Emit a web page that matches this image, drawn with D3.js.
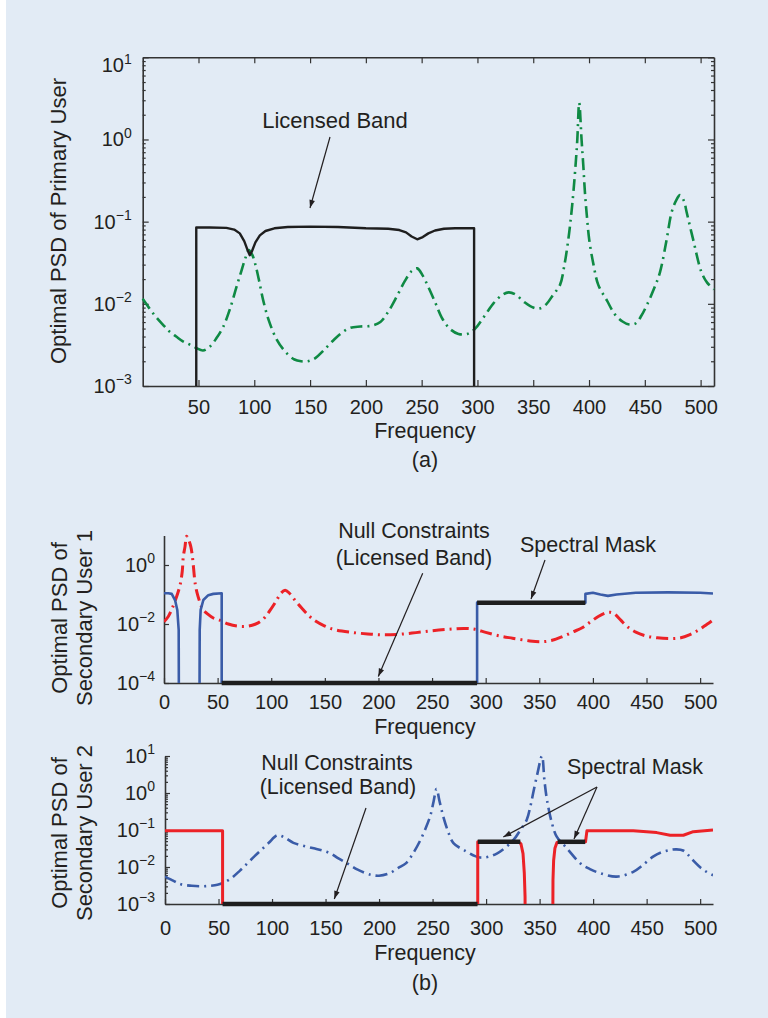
<!DOCTYPE html>
<html>
<head>
<meta charset="utf-8">
<script src="https://cdn.jsdelivr.net/npm/d3@7"></script>
<style>
  html, body { margin: 0; padding: 0; background: #fff; }
  svg text { font-family: "Liberation Sans", Arial, Helvetica, sans-serif; fill: #231f20; }
  .axis path, .axis line { stroke: #333; }
  .axis path { stroke-width: 1.6; }
  .axis line { stroke-width: 1.2; }
</style>
</head>
<body>
<div id="chart"></div>
<script>
// ---------- data (a): primary user ----------
const puFreq = [48, 48, 60, 75, 82, 87, 91, 94, 96, 98, 101, 105, 110, 118, 130, 150, 175, 200, 220, 230, 236, 241, 246, 251, 256, 262, 270, 280, 297, 297];
const puPsd = [0.001, 0.085, 0.085, 0.084, 0.08, 0.072, 0.058, 0.045, 0.039, 0.044, 0.056, 0.068, 0.077, 0.083, 0.086, 0.087, 0.086, 0.083, 0.082, 0.079, 0.074, 0.066, 0.061, 0.065, 0.072, 0.078, 0.082, 0.083, 0.083, 0.001];

const puIntFreq = [0, 6, 12, 18, 24, 30, 36, 42, 48, 54, 60, 66, 72, 78, 84, 88, 92, 95, 98, 101, 104, 108, 113, 120, 128, 136, 142, 148, 155, 162, 170, 178, 186, 195, 205, 213, 220, 228, 235, 241, 246, 251, 256, 262, 268, 275, 283, 291, 298, 306, 314, 322, 328, 334, 342, 350, 356, 362, 368, 374, 378, 381.4, 384, 386, 388, 389.5, 391.2, 393.3, 394.8, 396.3, 398, 400.2, 404, 408.3, 416, 423, 430, 436, 442, 447, 451.6, 458, 463.5, 469.5, 474, 478, 481.5, 485, 487.5, 493.4, 500.9, 506, 512];
const puIntPsd = [0.0115, 0.0088, 0.0069, 0.0056, 0.0046, 0.004, 0.0035, 0.0032, 0.0029, 0.0027, 0.003, 0.0038, 0.0052, 0.0085, 0.016, 0.024, 0.036, 0.045, 0.04, 0.03, 0.02, 0.011, 0.0063, 0.0037, 0.0026, 0.0021, 0.002, 0.002, 0.0022, 0.0027, 0.0035, 0.0044, 0.0051, 0.0053, 0.0054, 0.006, 0.008, 0.0125, 0.019, 0.025, 0.027, 0.022, 0.016, 0.0105, 0.0068, 0.005, 0.0043, 0.0043, 0.005, 0.007, 0.01, 0.0128, 0.0138, 0.013, 0.0105, 0.009, 0.0088, 0.01, 0.013, 0.017, 0.03, 0.06, 0.12, 0.23, 0.5, 1.0, 2.8, 1.0, 0.5, 0.23, 0.12, 0.06, 0.03, 0.017, 0.011, 0.0075, 0.0061, 0.0056, 0.0058, 0.0072, 0.0095, 0.015, 0.024, 0.06, 0.13, 0.18, 0.21, 0.18, 0.13, 0.06, 0.024, 0.018, 0.015];

// ---------- data (b): secondary user 1 (1e-6 = switched off, below the axis) ----------
const su1Freq = [0, 4, 7.2, 10.3, 12.4, 13.7, 14, 33, 33.3, 34.2, 36.7, 41.3, 46, 53.8, 53.8, 292, 292, 393, 393, 400, 407, 414, 422, 440, 470, 500, 512];
const su1Psd = [0.11, 0.11, 0.105, 0.065, 0.03, 0.0063, 1e-6, 1e-6, 0.0063, 0.03, 0.065, 0.095, 0.105, 0.11, 1e-6, 1e-6, 0.053, 0.053, 0.105, 0.115, 0.1, 0.09, 0.1, 0.115, 0.118, 0.115, 0.108];

const su1IntFreq = [0, 4, 7, 11, 15, 17, 18, 19.6, 21.1, 23, 25, 26.5, 29.3, 31.8, 36.5, 40, 46, 52, 60, 68, 77, 85, 92, 98, 104, 109, 113, 117, 122, 128, 134, 140, 150, 160, 175, 190, 205, 220, 235, 250, 265, 280, 290, 300, 312, 325, 340, 352, 362, 372, 382, 390, 398, 405, 412, 416, 420, 426, 432, 440, 450, 460, 472, 482, 490, 497, 504, 512];
const su1IntPsd = [0.012, 0.018, 0.03, 0.07, 0.21, 0.6, 1.9, 4.2, 9.5, 7, 4.2, 1.9, 0.21, 0.085, 0.03, 0.023, 0.016, 0.0135, 0.01, 0.0085, 0.0083, 0.0098, 0.014, 0.026, 0.055, 0.11, 0.14, 0.11, 0.065, 0.036, 0.021, 0.0135, 0.0085, 0.0063, 0.0052, 0.0046, 0.0043, 0.0045, 0.0051, 0.0059, 0.0066, 0.0071, 0.0066, 0.0052, 0.004, 0.0033, 0.0027, 0.0025, 0.0028, 0.0038, 0.0055, 0.0075, 0.012, 0.018, 0.024, 0.025, 0.022, 0.0135, 0.0082, 0.0053, 0.0039, 0.0034, 0.0032, 0.0034, 0.0043, 0.0058, 0.0085, 0.0137];

const su1NullFreq = [53.8, 292];
const su1NullPsd = [0.0001, 0.0001];
const su1MaskFreq = [292, 393];
const su1MaskPsd = [0.053, 0.053];

// ---------- data (b): secondary user 2 ----------
const su2Freq = [0, 53.8, 53.8, 292.2, 292.2, 330.4, 332.6, 334.5, 335.7, 336.4, 336.7, 362.1, 362.5, 363.1, 364.3, 366.2, 392.9, 394.2, 420, 437.5, 459.4, 471.9, 484.3, 493.6, 512];
const su2Psd = [0.095, 0.095, 1e-5, 1e-5, 0.048, 0.048, 0.042, 0.023, 0.0068, 0.0016, 1e-5, 1e-5, 0.0045, 0.015, 0.032, 0.046, 0.048, 0.095, 0.096, 0.095, 0.085, 0.072, 0.072, 0.09, 0.1];

const su2IntFreq = [0, 8, 15, 25, 34, 42, 49, 55, 62, 70, 77, 84, 90, 97, 105, 112, 120, 130, 139, 147, 155, 162, 170, 180, 192, 200, 210, 218, 225, 232, 238.7, 244, 248, 251, 253.7, 256.5, 260, 264, 269.5, 279, 294.7, 310, 325.6, 332, 338, 341.5, 344, 348, 352.2, 354.5, 356.9, 361.6, 366, 375.5, 388, 397, 406.6, 422, 437.5, 446, 456, 464, 472, 478, 484, 489, 493, 500, 506, 512];
const su2IntPsd = [0.0055, 0.0042, 0.0034, 0.0031, 0.003, 0.0031, 0.0033, 0.0038, 0.005, 0.008, 0.0126, 0.02, 0.029, 0.045, 0.072, 0.062, 0.045, 0.037, 0.032, 0.028, 0.023, 0.017, 0.0126, 0.0085, 0.0062, 0.0058, 0.0068, 0.0095, 0.0125, 0.024, 0.054, 0.12, 0.25, 0.6, 1.3, 0.6, 0.23, 0.1, 0.044, 0.029, 0.018, 0.023, 0.054, 0.1, 0.19, 0.45, 1.0, 3.4, 10, 2.2, 0.65, 0.15, 0.066, 0.032, 0.0126, 0.0088, 0.0068, 0.0055, 0.0074, 0.011, 0.019, 0.025, 0.029, 0.03, 0.028, 0.021, 0.0155, 0.0098, 0.0074, 0.006];

const su2NullFreq = [53.8, 292];
const su2NullPsd = [0.001, 0.001];
const su2MaskFreq = [[292.2, 332], [366.8, 392.6]];
const su2MaskPsd = [0.048, 0.048];

// ---------- tick values ----------
const freqTicksA = [50, 100, 150, 200, 250, 300, 350, 400, 450, 500];
const freqTicksB = [0, 50, 100, 150, 200, 250, 300, 350, 400, 450, 500];
const decadesA = [1e-3, 1e-2, 1e-1, 1, 10];
const decadesSU1 = [1e-4, 1e-2, 1];
const decadesSU2 = [1e-3, 1e-2, 1e-1, 1, 10];

const W = 768, H = 1018;
const svg = d3.select("#chart").append("svg").attr("width", W).attr("height", H);

svg.append("rect").attr("width", W).attr("height", H).attr("fill", "#fff");
svg.append("rect").attr("x", 6).attr("width", W - 6).attr("height", H).attr("fill", "#e2ebf5");

const defs = svg.append("defs");
defs.append("marker")
    .attr("id", "arr")
    .attr("viewBox", "0 0 10 10")
    .attr("refX", 10).attr("refY", 5)
    .attr("markerWidth", 12).attr("markerHeight", 8)
    .attr("markerUnits", "userSpaceOnUse")
    .attr("orient", "auto")
    .append("path").attr("d", "M0,1.5 L10,5 L0,8.5 z").attr("fill", "#231f20");

const zip = (xs, ys) => xs.map((x, i) => [x, ys[i]]);

// clip area of a panel, from its scales
function clipFor(id, x, y) {
    defs.append("clipPath").attr("id", id).append("rect")
        .attr("x", x.range()[0]).attr("y", y.range()[1] - 10)
        .attr("width", x.range()[1] - x.range()[0])
        .attr("height", y.range()[0] - y.range()[1] + 10);
    return `url(#${id})`;
}

// minor log ticks
function minorTicks(lo, hi) {
    const out = [];
    for (let e = Math.log10(lo); e < Math.log10(hi); e++) {
        for (let k = 2; k <= 9; k++) out.push(k * Math.pow(10, e));
    }
    return out;
}

// 10 with superscript exponent
function powLabels(g, dyFirst) {
    g.selectAll(".tick text").each(function (d) {
        const e = Math.round(Math.log10(d));
        const t = d3.select(this).text(null).attr("font-size", 20);
        t.append("tspan").text("10");
        t.append("tspan").attr("dy", -8.5).attr("font-size", 14)
            .text(e < 0 ? "\u2212" + (-e) : String(e));
        if (dyFirst && d === 10) t.attr("y", 8);
    });
}

function drawLine(xs, ys, x, y, color, width, curve, dash, clip) {
    const line = d3.line().x(d => x(d[0])).y(d => y(d[1])).curve(curve || d3.curveLinear);
    svg.append("path")
        .datum(zip(xs, ys))
        .attr("d", line)
        .attr("fill", "none")
        .attr("stroke", color)
        .attr("stroke-width", width)
        .attr("stroke-linejoin", "round")
        .attr("stroke-dasharray", dash || null)
        .attr("clip-path", clip || null);
}

function label(x, y, txt, size, anchor) {
    svg.append("text").attr("x", x).attr("y", y)
        .attr("font-size", size || 21.5)
        .attr("text-anchor", anchor || "middle")
        .text(txt);
}

function arrow(x1, y1, x2, y2) {
    svg.append("line")
        .attr("x1", x1).attr("y1", y1).attr("x2", x2).attr("y2", y2)
        .attr("stroke", "#231f20").attr("stroke-width", 1.2)
        .attr("marker-end", "url(#arr)");
}

function yTitle(lines, cx, cy) {
    lines.forEach((txt, i) => {
        svg.append("text")
            .attr("transform", `translate(${cx[i]},${cy}) rotate(-90)`)
            .attr("font-size", 22)
            .attr("text-anchor", "middle")
            .text(txt);
    });
}

const dashDot = "12,5,2,5";
const green = "#0f8a44", red = "#ec2227", blue = "#3a5ca8", black = "#1e1e1e";

// ================= (a) =================
const xA = d3.scaleLinear().domain([0, 512]).range([142.7, 714]);
const yA = d3.scaleLog().domain([1e-3, 10]).range([386, 57.3]);

svg.append("g").attr("class", "axis").attr("transform", `translate(0,${yA.range()[0]})`)
    .call(d3.axisBottom(xA).tickValues(freqTicksA).tickSizeInner(-6).tickSizeOuter(0).tickPadding(13.5))
    .call(g => g.selectAll("text").attr("font-size", 20));
svg.append("g").attr("class", "axis").attr("transform", `translate(0,${yA.range()[1]})`)
    .call(d3.axisTop(xA).tickValues(freqTicksA).tickSizeInner(-6).tickSizeOuter(0).tickFormat(""));
svg.append("g").attr("class", "axis").attr("transform", `translate(${xA.range()[0]},0)`)
    .call(d3.axisLeft(yA).tickValues(decadesA).tickSizeInner(-6).tickSizeOuter(0).tickPadding(11))
    .call(g => powLabels(g, true));
svg.append("g").attr("class", "axis").attr("transform", `translate(${xA.range()[0]},0)`)
    .call(d3.axisLeft(yA).tickValues(minorTicks(1e-3, 10)).tickSizeInner(-3).tickSizeOuter(0).tickFormat(""))
    .call(g => g.select(".domain").remove());
svg.append("g").attr("class", "axis").attr("transform", `translate(${xA.range()[1]},0)`)
    .call(d3.axisRight(yA).tickValues(decadesA).tickSizeInner(-6).tickSizeOuter(0).tickFormat(""));
svg.append("g").attr("class", "axis").attr("transform", `translate(${xA.range()[1]},0)`)
    .call(d3.axisRight(yA).tickValues(minorTicks(1e-3, 10)).tickSizeInner(-3).tickSizeOuter(0).tickFormat(""))
    .call(g => g.select(".domain").remove());

drawLine(puIntFreq, puIntPsd, xA, yA, green, 2.6, d3.curveCatmullRom.alpha(0.5), dashDot);
drawLine(puFreq, puPsd, xA, yA, black, 2.4);

yTitle(["Optimal PSD of Primary User"], [65.5], 221);
label(425, 438, "Frequency");
label(425, 467, "(a)");
label(335, 128.3, "Licensed Band", 22);
arrow(330, 137, 310, 208);

// ================= (b) secondary user 1 =================
const xB = d3.scaleLinear().domain([0, 512]).range([164, 713]);
const yB = d3.scaleLog().domain([1e-4, 10]).range([683, 535.5]);
const clipB = clipFor("clipB", xB, yB);

svg.append("g").attr("class", "axis").attr("transform", `translate(0,${yB.range()[0]})`)
    .call(d3.axisBottom(xB).tickValues(freqTicksB).tickSizeInner(-5).tickSizeOuter(0).tickPadding(12))
    .call(g => g.selectAll("text").attr("font-size", 20));
svg.append("g").attr("class", "axis").attr("transform", `translate(${xB.range()[0]},0)`)
    .call(d3.axisLeft(yB).tickValues(decadesSU1).tickSizeInner(-5).tickSizeOuter(0).tickPadding(9))
    .call(g => powLabels(g, false));

drawLine(su1IntFreq, su1IntPsd, xB, yB, red, 3, d3.curveCatmullRom.alpha(0.5), dashDot, clipB);
drawLine(su1Freq, su1Psd, xB, yB, blue, 2.6, null, null, clipB);
drawLine(su1NullFreq, su1NullPsd, xB, yB, black, 4.5);
drawLine(su1MaskFreq, su1MaskPsd, xB, yB, black, 4.5);

yTitle(["Optimal PSD of", "Secondary User 1"], [66.5, 91.5], 618);
label(425, 734, "Frequency");
label(414, 538.3, "Null Constraints");
label(414, 565, "(Licensed Band)");
label(588, 551.7, "Spectral Mask");
arrow(422.7, 573.3, 378.3, 676.5);
arrow(545, 560, 531, 599);

// ================= (b) secondary user 2 =================
const xC = d3.scaleLinear().domain([0, 512]).range([165, 713]);
const yC = d3.scaleLog().domain([1e-3, 10]).range([904, 756]);
const clipC = clipFor("clipC", xC, yC);

svg.append("g").attr("class", "axis").attr("transform", `translate(0,${yC.range()[0]})`)
    .call(d3.axisBottom(xC).tickValues(freqTicksB).tickSizeInner(-5).tickSizeOuter(0).tickPadding(16.5))
    .call(g => g.selectAll("text").attr("font-size", 20));
svg.append("g").attr("class", "axis").attr("transform", `translate(${xC.range()[0]},0)`)
    .call(d3.axisLeft(yC).tickValues(decadesSU2).tickSizeInner(-5).tickSizeOuter(0).tickPadding(10))
    .call(g => powLabels(g, false));
svg.append("g").attr("class", "axis").attr("transform", `translate(${xC.range()[0]},0)`)
    .call(d3.axisLeft(yC).tickValues(minorTicks(1e-3, 10)).tickSizeInner(-3).tickSizeOuter(0).tickFormat(""))
    .call(g => g.select(".domain").remove());

drawLine(su2IntFreq, su2IntPsd, xC, yC, blue, 2.6, d3.curveCatmullRom.alpha(0.5), dashDot, clipC);
drawLine(su2Freq, su2Psd, xC, yC, red, 3, null, null, clipC);
drawLine(su2NullFreq, su2NullPsd, xC, yC, black, 4.5);
su2MaskFreq.forEach(seg => drawLine(seg, su2MaskPsd, xC, yC, black, 4.5));

yTitle(["Optimal PSD of", "Secondary User 2"], [66.5, 91.5], 833);
label(425, 960, "Frequency");
label(425, 990, "(b)");
label(337, 770, "Null Constraints");
label(338, 794, "(Licensed Band)");
label(635, 774, "Spectral Mask");
arrow(366, 808, 334.3, 899);
arrow(597, 787, 503.3, 837);
arrow(597, 787, 574, 839);
</script>
</body>
</html>
